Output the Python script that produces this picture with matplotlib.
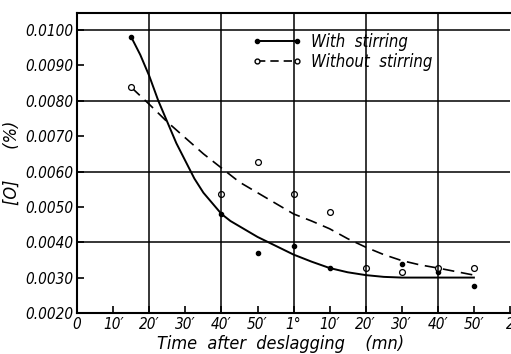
import matplotlib
matplotlib.use("Agg")
import matplotlib.pyplot as plt
from matplotlib import font_manager

# measured points (time in minutes after deslagging, [O] in %)
t_stir = [15, 40, 50, 60, 70, 90, 100, 110]
o_stir = [0.0098, 0.0048, 0.0037, 0.0039, 0.00327, 0.00338, 0.00316, 0.00276]
t_nostir = [15, 40, 50, 60, 70, 80, 90, 100, 110]
o_nostir = [0.00838, 0.00536, 0.00627, 0.00536, 0.00485, 0.00327, 0.00316, 0.00327, 0.00327]

# hand-drawn fitted curves
stir_t = [15, 17.5, 20, 22.5, 25, 27.5, 30, 32.5, 35, 37.5, 40, 42.5, 45, 47.5, 50,
          55, 60, 65, 70, 75, 80, 85, 90, 100, 110]
stir_o = [0.0098, 0.0093, 0.0087, 0.0080, 0.0074, 0.0068, 0.0063, 0.0058, 0.0054,
          0.0051, 0.0048, 0.0046, 0.00445, 0.0043, 0.00415, 0.0039, 0.00365, 0.00345,
          0.00327, 0.00315, 0.00307, 0.00302, 0.0030, 0.0030, 0.0030]
nostir_t = [15, 20, 25, 30, 35, 40, 45, 50, 55, 60, 65, 70, 75, 80, 85, 90, 95, 100,
            105, 110]
nostir_o = [0.00838, 0.0079, 0.0074, 0.00695, 0.0065, 0.0061, 0.0057, 0.0054, 0.0051,
            0.0048, 0.0046, 0.00438, 0.0041, 0.00386, 0.00365, 0.00348, 0.00336,
            0.00327, 0.00317, 0.00307]

xticks = [0, 10, 20, 30, 40, 50, 60, 70, 80, 90, 100, 110, 120]
xlabels = ["0", "10\u2032", "20\u2032", "30\u2032", "40\u2032", "50\u2032", "1\u00b0",
           "10\u2032", "20\u2032", "30\u2032", "40\u2032", "50\u2032", "2"]
yticks = [0.0020, 0.0030, 0.0040, 0.0050, 0.0060, 0.0070, 0.0080, 0.0090, 0.0100]

fp = font_manager.FontProperties(family="DejaVu Sans", style="italic",
                                 stretch="condensed", size=11)
fp_leg = fp.copy()
fp_leg.set_size(12)
fp_lab = fp.copy()
fp_lab.set_size(13)

fig = plt.figure(figsize=(5.11, 3.54), dpi=100)
ax = fig.add_axes([0.151, 0.116, 0.847, 0.847])

ax.plot(stir_t, stir_o, color="black", lw=1.4, ls="-")
ax.plot(nostir_t, nostir_o, color="black", lw=1.2, ls=(0, (7, 4)))
ax.plot(t_stir, o_stir, "o", color="black", ms=3, ls="none")
ax.plot(t_nostir, o_nostir, "o", mfc="white", mec="black", mew=0.9, ms=4.2, ls="none")

# legend drawn as sample lines with end markers
lh1, = ax.plot([], [], color="black", lw=1.4, marker="o", ms=3)
lh2, = ax.plot([], [], color="black", lw=1.2, ls=(0, (5, 3)), marker="o",
               mfc="white", mec="black", ms=3.5)
ax.legend([lh1, lh2], ["With  stirring", "Without  stirring"], numpoints=2,
          frameon=False, loc="upper left", bbox_to_anchor=(0.37, 0.985),
          handlelength=3.0, handletextpad=0.5, labelspacing=0.15, prop=fp_leg)

ax.set_xlim(0, 120)
ax.set_ylim(0.0020, 0.01048)
ax.set_xticks(xticks)
ax.set_xticklabels(xlabels, fontproperties=fp)
ax.set_yticks(yticks)
ax.set_yticklabels(["%.4f" % v for v in yticks], fontproperties=fp)
ax.tick_params(direction="in", length=5, width=1.2, pad=3)

for v in [0.0040, 0.0060, 0.0080, 0.0100]:
    ax.axhline(v, color="black", lw=1.1)
for v in [20, 40, 60, 80, 100]:
    ax.axvline(v, color="black", lw=1.1)

for s in ax.spines.values():
    s.set_linewidth(1.5)
ax.spines["right"].set_visible(False)

ax.set_xlabel("Time  after  deslagging    (mn)", fontproperties=fp_lab, labelpad=0)
ax.xaxis.set_label_coords(0.47, -0.075)
ax.set_ylabel("[O]      (%)", fontproperties=fp_lab, labelpad=3)

fig.savefig("out.png", dpi=100)
